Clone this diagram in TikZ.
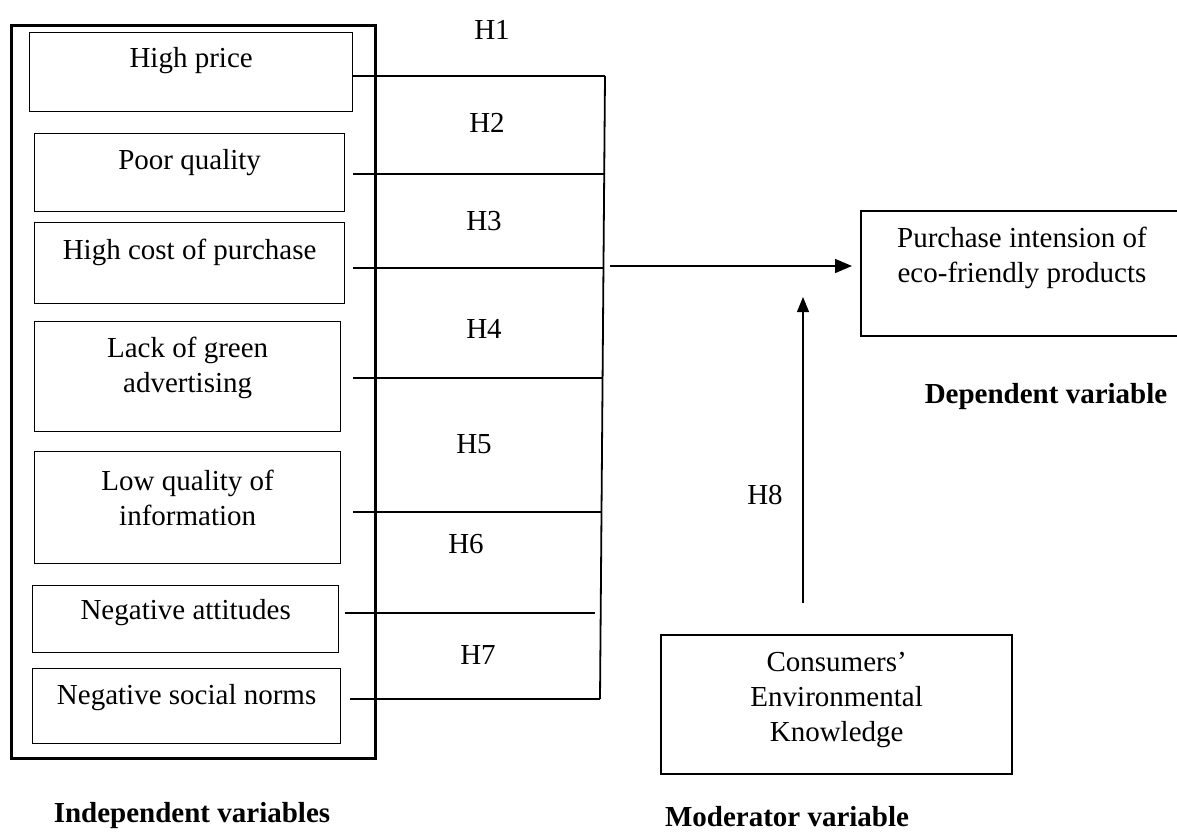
\documentclass[tikz,border=0pt]{standalone}
\usepackage{fontspec}
\setmainfont{Liberation Serif}
\usetikzlibrary{arrows.meta,calc}
\begin{document}
\begin{tikzpicture}[x=1pt,y=-1pt,
  outerbox/.style={draw,line width=2.6pt,inner sep=0pt,anchor=north west},
  ibox/.style={draw,line width=1.3pt,inner sep=0pt,anchor=north west},
  obox/.style={draw,line width=2.3pt,inner sep=0pt,anchor=north west},
  txt/.style={font=\fontsize{29}{35}\selectfont,align=center,inner sep=0pt},
  btxt/.style={font=\fontsize{29}{35}\selectfont\bfseries,inner sep=0pt},
  link/.style={line width=1.3pt},
  buslink/.style={line width=1.8pt},
  arr/.style={line width=1.5pt,-{Triangle[length=17pt,width=14pt]}},
  arrv/.style={line width=1.1pt,-{Triangle[length=15pt,width=12pt]}}
  ]
\useasboundingbox (0,0) rectangle (1177,831);
\clip (0,0) rectangle (1177,831);

% outer frame
\node[outerbox,minimum width=364pt,minimum height=733pt] (frame) at (10,24) {};

% independent variable boxes
\node[ibox,minimum width=323pt,minimum height=79pt] (hp) at (29,32) {};
\node[ibox,minimum width=310pt,minimum height=78pt] (pq) at (34,133) {};
\node[ibox,minimum width=310pt,minimum height=81pt] (hc) at (34,222) {};
\node[ibox,minimum width=306pt,minimum height=110pt] (lg) at (34,321) {};
\node[ibox,minimum width=306pt,minimum height=112pt] (lq) at (34,451) {};
\node[ibox,minimum width=306pt,minimum height=67pt] (na) at (32,585) {};
\node[ibox,minimum width=308pt,minimum height=75pt] (ns) at (32,668) {};

\node[txt] (hpt) at (hp.north |- 0,61) {High price};
\node[txt] (pqt) at (pq.north |- 0,163) {Poor quality};
\node[txt] (hct) at (hc.north |- 0,252) {High cost of purchase};
\node[txt] (lgt) at (lg.north |- 0,368) {Lack of green\\advertising};
\node[txt] (lqt) at (lq.north |- 0,498) {Low quality of\\information};
\node[txt] (nat) at (na.north |- 0,613) {Negative attitudes};
\node[txt] (nst) at (ns.north |- 0,698) {Negative social norms};

% dependent and moderator boxes
\node[obox,minimum width=330pt,minimum height=125pt] (pi) at (860,210) {};
\node[txt] (pit) at (1022,258) {Purchase intension of\\eco-friendly products};
\node[obox,minimum width=351pt,minimum height=139pt] (ck) at (660,634) {};
\node[txt] (ckt) at (ck.north |- 0,700) {Consumers’\\Environmental\\Knowledge};

% bus coordinates
\coordinate (b1) at (605,76);
\coordinate (b2) at (604.2,174);
\coordinate (b3) at (603.5,268);
\coordinate (b4) at (602.6,378);
\coordinate (b5) at (601.5,512);
\coordinate (b6) at (595,613);
\coordinate (b7) at (600,699);

\draw[link] (hp.east |- b1) -- (b1);
\draw[link] (hp.east |- b2) -- (b2);
\draw[link] (hp.east |- b3) -- (b3);
\draw[link] (hp.east |- b4) -- (b4);
\draw[link] (hp.east |- b5) -- (b5);
\draw[link] ([xshift=6pt]na.east |- b6) -- (b6);
\draw[link] ([xshift=9pt]ns.east |- b7) -- (b7);
\draw[buslink] (b1) -- (b7);

% hypothesis labels
\node[txt] (h1) at (492,30) {H1};
\node[txt] (h2) at (487,123) {H2};
\node[txt] (h3) at (484,221) {H3};
\node[txt] (h4) at (484,329) {H4};
\node[txt] (h5) at (474,444) {H5};
\node[txt] (h6) at (466,544) {H6};
\node[txt] (h7) at (478,655) {H7};
\node[txt] (h8) at (765,495) {H8};

% arrows
\coordinate (as) at (610,266);
\draw[arr,shorten >=8pt] (as) -- (pi.west |- as);
\coordinate (ms) at (803,603);
\coordinate (me) at (803,297);
\draw[arrv] (ms) -- (me);

% captions
\node[btxt] (dv) at (1046,397) {Dependent variable};
\node[btxt] (iv) at (192,816) {Independent variables};
\node[btxt] (mv) at (787,817) {Moderator variable};
\end{tikzpicture}
\end{document}
